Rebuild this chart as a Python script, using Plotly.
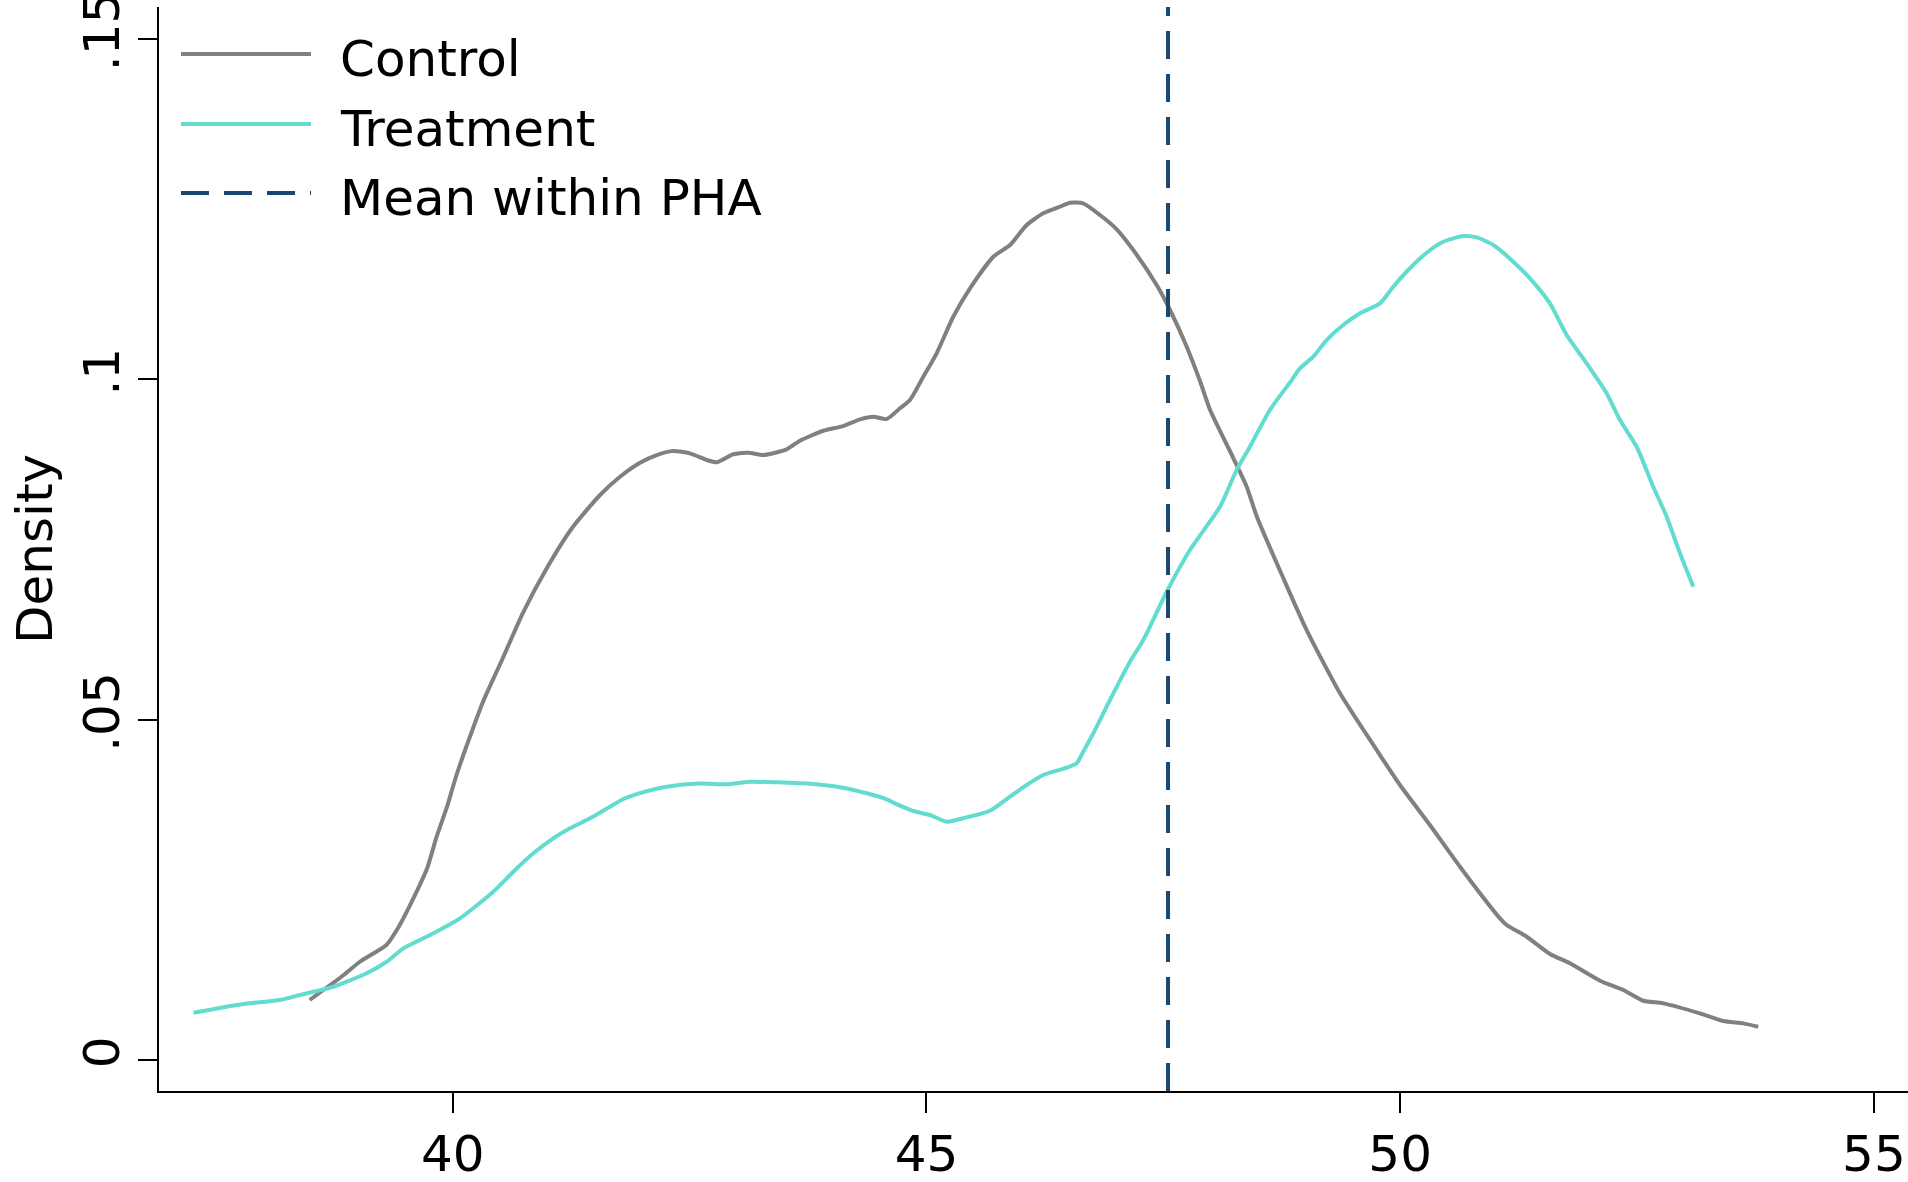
import plotly.graph_objects as go

# Kernel density of the score, by group
control_x = [38.49, 38.85, 39.02, 39.30, 39.41, 39.55, 39.73, 39.83, 39.94, 40.04,
             40.15, 40.32, 40.52, 40.74, 41.00, 41.26, 41.555, 41.766, 41.977, 42.153,
             42.328, 42.504, 42.681, 42.786, 42.961, 43.120, 43.278, 43.525, 43.665, 43.911,
             44.122, 44.299, 44.439, 44.580, 44.721, 44.826, 44.967, 45.108, 45.283, 45.460,
             45.706, 45.882, 46.058, 46.233, 46.410, 46.515, 46.655, 46.832, 47.008, 47.183,
             47.430, 47.571, 47.747, 47.889, 47.994, 48.239, 48.380, 48.489, 48.766, 49.013,
             49.365, 49.752, 49.998, 50.314, 50.631, 51.053, 51.124, 51.335, 51.581, 51.792,
             52.109, 52.355, 52.566, 52.777, 53.164, 53.410, 53.621, 53.779]
control_y = [0.00879, 0.01246, 0.01441, 0.01687, 0.01907, 0.02274, 0.02814, 0.03278, 0.03719, 0.04185,
             0.04625, 0.05262, 0.05874, 0.06565, 0.07241, 0.07814, 0.08299, 0.08567, 0.08773, 0.08886,
             0.08945, 0.08911, 0.08813, 0.08779, 0.08897, 0.08920, 0.08886, 0.08970, 0.09097, 0.09243,
             0.09312, 0.09411, 0.09449, 0.09415, 0.09573, 0.09694, 0.10037, 0.10381, 0.10918, 0.11336,
             0.11800, 0.11972, 0.12266, 0.12438, 0.12535, 0.12593, 0.12585, 0.12413, 0.12203, 0.11898,
             0.11384, 0.11017, 0.10478, 0.09966, 0.09548, 0.08842, 0.08421, 0.07975, 0.07079, 0.06315,
             0.05385, 0.04552, 0.04038, 0.03450, 0.02837, 0.02079, 0.01981, 0.01809, 0.01555, 0.01418,
             0.01162, 0.01026, 0.00868, 0.00830, 0.00683, 0.00570, 0.00536, 0.00486]

treatment_x = [37.264, 37.791, 38.175, 38.388, 38.565, 38.740, 39.092, 39.303, 39.479, 39.760,
               40.077, 40.428, 40.640, 40.851, 41.062, 41.238, 41.449, 41.660, 41.801, 41.942,
               42.259, 42.610, 42.892, 43.138, 43.420, 43.806, 44.088, 44.369, 44.580, 44.721,
               44.861, 45.038, 45.214, 45.425, 45.671, 45.882, 46.058, 46.233, 46.480, 46.586,
               46.655, 46.761, 46.937, 47.148, 47.289, 47.536, 47.781, 48.098, 48.274, 48.414,
               48.625, 48.855, 48.942, 49.083, 49.224, 49.399, 49.576, 49.787, 49.927, 50.103,
               50.280, 50.455, 50.666, 50.807, 50.983, 51.194, 51.370, 51.581, 51.757, 51.968,
               52.179, 52.320, 52.496, 52.671, 52.813, 52.953, 53.094]
treatment_y = [0.00691, 0.00820, 0.00879, 0.00952, 0.01011, 0.01074, 0.01271, 0.01441, 0.01638, 0.01834,
               0.02079, 0.02470, 0.02764, 0.03034, 0.03254, 0.03401, 0.03548, 0.03719, 0.03832, 0.03905,
               0.04013, 0.04060, 0.04048, 0.04086, 0.04077, 0.04052, 0.04004, 0.03916, 0.03828, 0.03734,
               0.03656, 0.03597, 0.03498, 0.03563, 0.03660, 0.03866, 0.04038, 0.04185, 0.04292, 0.04357,
               0.04527, 0.04797, 0.05287, 0.05849, 0.06168, 0.06878, 0.07490, 0.08127, 0.08666, 0.09008,
               0.09548, 0.09988, 0.10160, 0.10331, 0.10576, 0.10796, 0.10968, 0.11115, 0.11359, 0.11630,
               0.11859, 0.12020, 0.12104, 0.12085, 0.11972, 0.11727, 0.11483, 0.11115, 0.10650, 0.10234,
               0.09793, 0.09401, 0.09008, 0.08421, 0.07980, 0.07442, 0.06951]

mean_within_pha = 47.55

x_tickvals = [40, 45, 50, 55]
x_ticktext = ["40", "45", "50", "55"]
y_tickvals = [0, 0.05, 0.1, 0.15]
y_ticktext = ["0", ".05", ".1", ".15"]

legend_labels = ["Control", "Treatment", "Mean within PHA"]
y_title = "Density"

GRAY = "#808080"
TURQ = "#62dccf"
NAVY = "#1a476f"
FONT = "DejaVu Sans"
LW = 4

# Page and plot-area geometry (pixels)
W, H = 1908, 1182
M_L, M_R, M_T, M_B = 159, 0, 7, 91
PW = W - M_L - M_R
PH = H - M_T - M_B


def px(xp):
    return (xp - M_L) / PW


def py(yp):
    return (H - M_B - yp) / PH


fig = go.Figure()
fig.add_trace(go.Scatter(x=control_x, y=control_y, mode="lines", name=legend_labels[0],
                         line=dict(color=GRAY, width=LW, shape="spline", smoothing=0.6),
                         showlegend=False))
fig.add_trace(go.Scatter(x=treatment_x, y=treatment_y, mode="lines", name=legend_labels[1],
                         line=dict(color=TURQ, width=LW, shape="spline", smoothing=0.6),
                         showlegend=False))
fig.add_vline(x=mean_within_pha, line=dict(color=NAVY, width=LW, dash="28px,15px"))

# Legend drawn in the upper-left corner of the plot
legend_styles = [
    dict(color=GRAY, width=LW, dash="solid"),
    dict(color=TURQ, width=LW, dash="solid"),
    dict(color=NAVY, width=LW, dash="28px,15px"),
]
legend_rows = [54, 124, 193]
for label, style, row in zip(legend_labels, legend_styles, legend_rows):
    fig.add_shape(type="line", xref="paper", yref="paper",
                  x0=px(181), x1=px(311), y0=py(row), y1=py(row), line=style)
    fig.add_annotation(text=label, xref="paper", yref="paper", x=px(338), y=py(row + 5),
                       xanchor="left", yanchor="middle", showarrow=False,
                       font=dict(family=FONT, size=50, color="black"))

# Vertical y-axis title
fig.add_annotation(text=y_title, xref="paper", yref="paper", x=px(35), y=0.5,
                   xanchor="center", yanchor="middle", textangle=-90, showarrow=False,
                   font=dict(family=FONT, size=50, color="black"))

fig.update_layout(
    width=W, height=H,
    margin=dict(l=M_L, r=M_R, t=M_T, b=M_B, pad=0),
    paper_bgcolor="white", plot_bgcolor="white",
    font=dict(family=FONT, size=50, color="black"),
    xaxis=dict(range=[36.90, 55.36], tickvals=x_tickvals, ticktext=x_ticktext,
               showgrid=False, zeroline=False, showline=True, linecolor="black", linewidth=2,
               ticks="outside", ticklen=20, tickwidth=1.5, tickcolor="black",
               ticklabelstandoff=-2, ticklabeloverflow="allow", automargin=False,
               tickfont=dict(family=FONT, size=50)),
    yaxis=dict(range=[-0.00458, 0.15469], tickvals=y_tickvals, ticktext=y_ticktext,
               showgrid=False, zeroline=False, showline=True, linecolor="black", linewidth=2,
               ticks="outside", ticklen=19, tickwidth=1.5, tickcolor="black",
               tickangle=-90, ticklabelstandoff=-1, ticklabeloverflow="allow", automargin=False,
               tickfont=dict(family=FONT, size=50)),
)

fig.write_html("out.html")
